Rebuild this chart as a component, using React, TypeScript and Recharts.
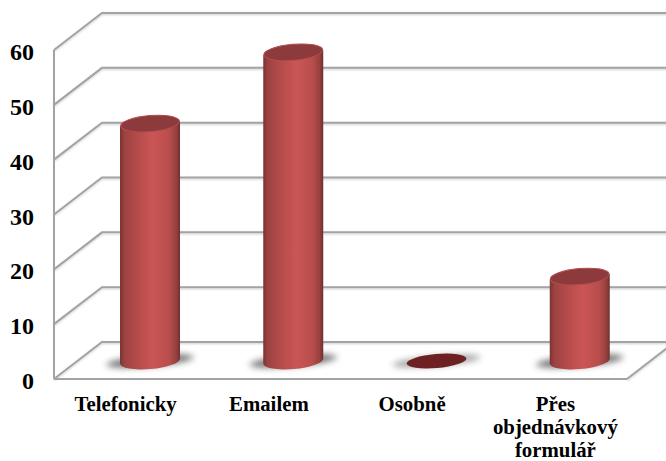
import { BarChart, Bar, XAxis, YAxis, ReferenceLine } from 'recharts'

const categories = ['Telefonicky', 'Emailem', 'Osobně', 'Přes\nobjednávkový\nformulář']
const responses = [43.3, 56.3, 0, 15.4]
const yTicks = [0, 10, 20, 30, 40, 50, 60]

const chartData = categories.map((name, i) => ({ name, value: responses[i] }))

const FONT = '"Liberation Serif", "Times New Roman", serif'
const WALL = '#a3a3a3'

// perspective offset of the back wall, and of the columns standing halfway in
const DEPTH_X = 48
const DEPTH_Y = 37
const COLUMN_X = 24
const COLUMN_Y = 18
const TILT = -5

const WallLine = ({ x1, y1, x2, y2, value }: any) => {
    const bx = x1 + DEPTH_X
    const by = y1 - DEPTH_Y
    return (
        <g fill="none" stroke={WALL} strokeWidth={2} filter="url(#lineShadow)">
            <polyline points={`${x1},${y1} ${bx},${by} ${x2 + DEPTH_X},${y2 - DEPTH_Y}`} />
            {value === 0 && <line x1={x2} y1={y2} x2={x2 + DEPTH_X} y2={y2 - DEPTH_Y} />}
        </g>
    )
}

const Cylinder = ({ x, y, width, height }: any) => {
    const cx = x + width / 2 + COLUMN_X
    const r = width / 2
    const top = y - COLUMN_Y
    const base = y + height - COLUMN_Y
    const ry = 8
    // ends of the tilted ellipses sit a little lower on the left than on the right
    const d = r * Math.sin((-TILT * Math.PI) / 180)
    const flat = height < 4

    return (
        <g>
            <ellipse
                cx={cx}
                cy={base}
                rx={r + 14}
                ry={flat ? 5 : 5.5}
                fill={flat ? '#8a8a8a' : '#555'}
                opacity={0.8}
                filter="url(#floorShadow)"
                transform={`rotate(${TILT} ${cx} ${base})`}
            />
            {flat ? (
                <ellipse
                    cx={cx}
                    cy={base}
                    rx={r}
                    ry={7}
                    fill="#6e2122"
                    transform={`rotate(${TILT} ${cx} ${base})`}
                />
            ) : (
                <>
                    <path
                        d={`M${cx - r},${top + d} L${cx - r},${base + d} A${r},${ry} ${TILT} 0 0 ${cx + r},${base - d} L${cx + r},${top - d} Z`}
                        fill="url(#columnBody)"
                    />
                    <ellipse
                        cx={cx}
                        cy={top}
                        rx={r - 0.5}
                        ry={ry}
                        fill="#8c3a3b"
                        stroke="#b04c4c"
                        strokeWidth={1}
                        transform={`rotate(${TILT} ${cx} ${top})`}
                    />
                </>
            )}
        </g>
    )
}

const CategoryTick = ({ x, y, payload }: any) => (
    <text x={x} y={y} textAnchor="middle" fontFamily={FONT} fontSize={20.8} fontWeight="bold" fill="#000">
        {String(payload.value)
            .split('\n')
            .map((line, i) => (
                <tspan key={line} x={x} y={y + 26 + i * 23}>
                    {line}
                </tspan>
            ))}
    </text>
)

const ValueTick = ({ x, y, payload }: any) => (
    <text x={x} y={y + 10} textAnchor="end" fontFamily={FONT} fontSize={24} fontWeight="bold" fill="#000">
        {payload.value}
    </text>
)

export default function App() {
    return (
        <div style={{ position: 'absolute', left: 0, top: 0, background: '#fff' }}>
            <BarChart
                width={666}
                height={461}
                data={chartData}
                margin={{ top: 50, right: 39, bottom: 0, left: 0 }}
            >
                <defs>
                    <linearGradient id="columnBody" x1="0" y1="0" x2="1" y2="0">
                        <stop offset="0%" stopColor="#7a3432" />
                        <stop offset="8%" stopColor="#9c4341" />
                        <stop offset="30%" stopColor="#b54c4b" />
                        <stop offset="55%" stopColor="#cb5555" />
                        <stop offset="82%" stopColor="#b84e4c" />
                        <stop offset="94%" stopColor="#96403f" />
                        <stop offset="100%" stopColor="#6f2f2e" />
                    </linearGradient>
                    <filter id="lineShadow" x="0" y="0" width="666" height="461" filterUnits="userSpaceOnUse">
                        <feDropShadow dx={0} dy={1} stdDeviation={1} floodColor="#000" floodOpacity={0.2} />
                    </filter>
                    <filter id="floorShadow" x="-30%" y="-100%" width="160%" height="300%">
                        <feGaussianBlur stdDeviation={3} />
                    </filter>
                </defs>
                <XAxis
                    dataKey="name"
                    height={82}
                    interval={0}
                    axisLine={{ stroke: WALL, strokeWidth: 2 }}
                    tickLine={false}
                    tickMargin={0}
                    tick={CategoryTick}
                />
                <YAxis
                    width={54}
                    domain={[0, 60]}
                    ticks={yTicks}
                    interval={0}
                    axisLine={{ stroke: WALL, strokeWidth: 2 }}
                    tickLine={false}
                    tickMargin={14}
                    tick={ValueTick}
                />
                {yTicks.map((v) => (
                    <ReferenceLine
                        key={v}
                        y={v}
                        ifOverflow="visible"
                        zIndex={-50}
                        shape={(props: any) => <WallLine {...props} value={v} />}
                    />
                ))}
                <Bar dataKey="value" barSize={60} shape={Cylinder} isAnimationActive={false} />
            </BarChart>
        </div>
    )
}
